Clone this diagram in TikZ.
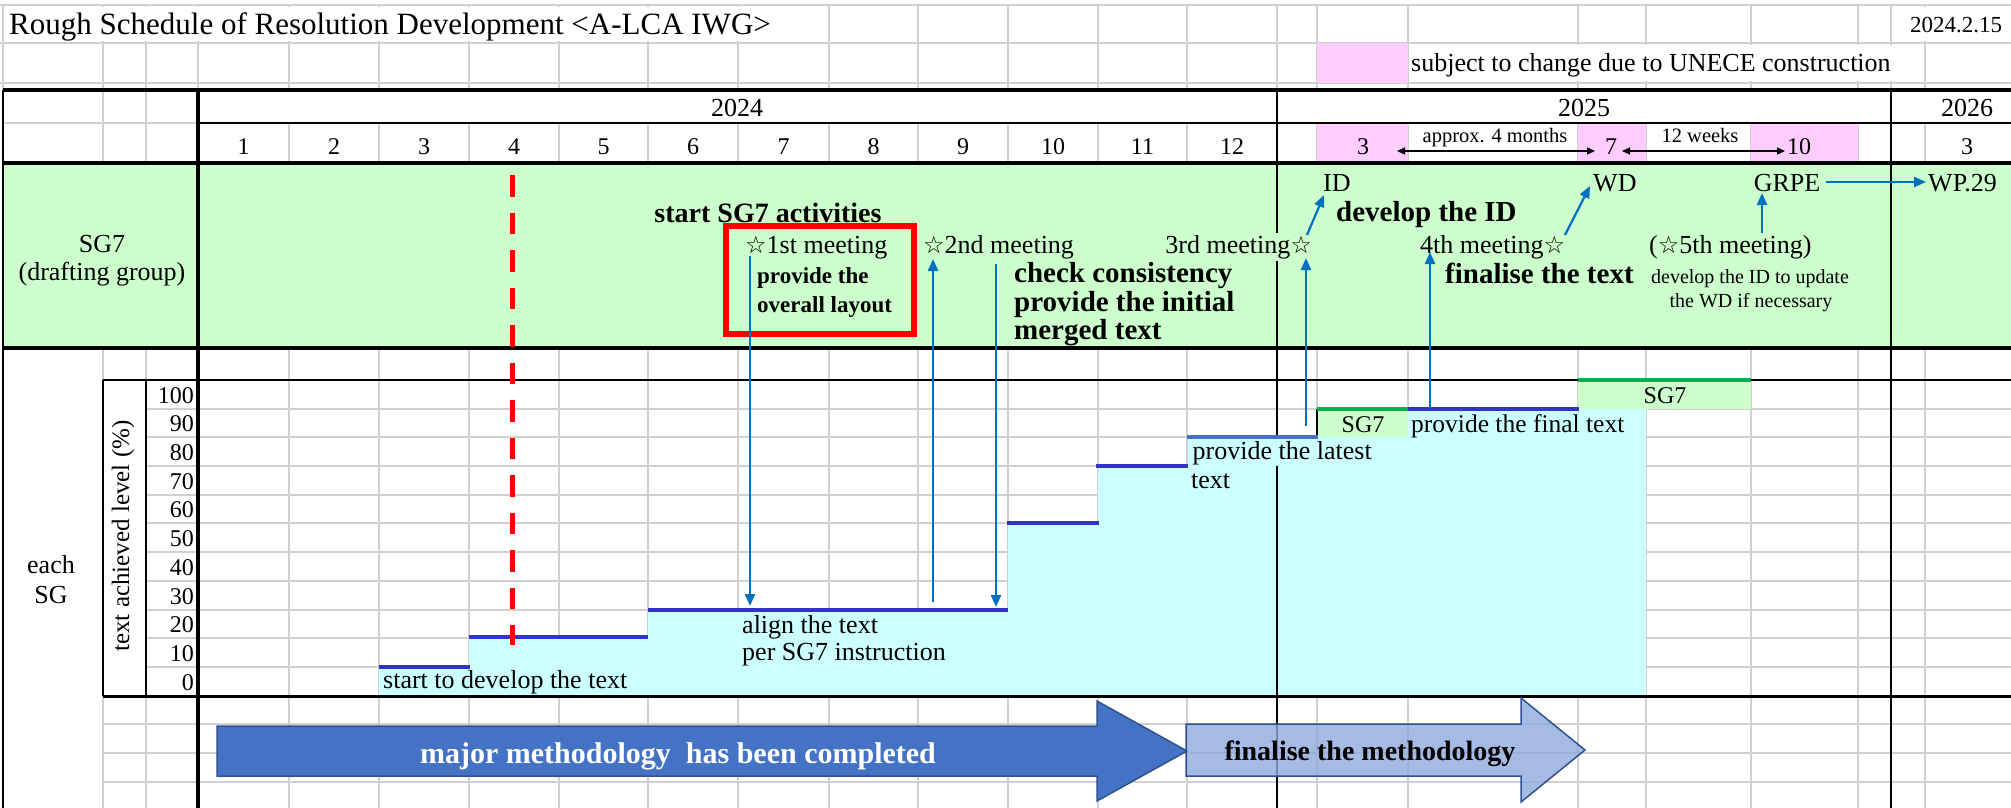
\documentclass[tikz,border=0pt]{standalone}
\usepackage{fontspec}
\setmainfont{Liberation Serif}
\newfontfamily\starfont{DejaVu Sans}
\usetikzlibrary{arrows.meta}
\definecolor{gridgray}{HTML}{D0D0D0}
\definecolor{bandgreen}{HTML}{CCFFCC}
\definecolor{cyanfill}{HTML}{CCFFFF}
\definecolor{pinkfill}{HTML}{FFCCFF}
\definecolor{levelblue}{HTML}{3333CC}
\definecolor{latestblue}{HTML}{4472C4}
\definecolor{sggreen}{HTML}{00B050}
\definecolor{arrowblue}{HTML}{0070C0}
\definecolor{darkarrow}{HTML}{4472C4}
\definecolor{darkedge}{HTML}{2F528F}
\definecolor{lightarrow}{HTML}{8FAADC}
\newcommand\fsz[1]{\fontsize{#1}{#1}\selectfont}
\newcommand\wstar{{\starfont\fontsize{24}{24}\selectfont ☆}}
\def\Vcols{103,146,289,379,469,559,648,738,829,918,1008,1098,1187,1317,1408,1578,1646,1751,1858,1925}
\begin{document}
\begin{tikzpicture}[x=1pt,y=-1pt,
  gline/.style={draw=gridgray,line width=1.6pt},
  bline/.style={draw=black,line width=2.2pt},
  tline/.style={draw=black,line width=4pt},
  lvl/.style={draw=levelblue,line width=4pt},
  sgline/.style={draw=sggreen,line width=4pt},
  conn/.style={draw=arrowblue,line width=2.2pt,-{Triangle[width=10pt,length=12pt]}},
  spanarrow/.style={draw=black,line width=1.2pt,{Triangle[width=7pt,length=8pt]}-{Triangle[width=7pt,length=8pt]}},
  lbl/.style={inner sep=0pt,font=\fsz{26}},
  blbl/.style={inner sep=0pt,font=\fsz{29}\bfseries},
  ax/.style={inner sep=0pt,anchor=base east,font=\fsz{24}},
  mon/.style={inner sep=0pt,anchor=base,font=\fsz{24}}]
\useasboundingbox (0,0) rectangle (2011,808);
\fill[white] (0,0) rectangle (2011,808);

% ---------- gray grid ----------
\draw[gline] (0,5) -- (2011,5);
\draw[gline] (0,43) -- (2011,43);
\draw[gline] (0,83) -- (2011,83);
\draw[gline] (3,123) -- (198,123);
\foreach \x in \Vcols {\draw[gline] (\x,5) -- (\x,90);}
\foreach \x in {198,1277,1891} {\draw[gline] (\x,5) -- (\x,90);}
\draw[gline] (3,5) -- (3,90);
\foreach \x in {103,146} {\draw[gline] (\x,90) -- (\x,123);}
\foreach \x in \Vcols {\draw[gline] (\x,123) -- (\x,163);}
\foreach \x in \Vcols {\draw[gline] (\x,348) -- (\x,808);}
\foreach \y in {409,437,466,495,523,552,581,610,638,667} {\draw[gline] (146,\y) -- (2011,\y);}
\foreach \y in {724,753,782} {\draw[gline] (103,\y) -- (2011,\y);}

% ---------- fills ----------
\fill[bandgreen] (3,163) rectangle (2011,348);
\fill[pinkfill] (1317,43) rectangle (1408,83);
\fill[pinkfill] (1317,123) rectangle (1408,163);
\fill[pinkfill] (1578,123) rectangle (1646,163);
\fill[pinkfill] (1751,123) rectangle (1858,163);
\fill[white] (6,7) rectangle (796,41);
\fill[white] (1903,7) rectangle (2009,41);
\fill[white] (1409,45) rectangle (1896,81);
\fill[cyanfill] (379,667) rectangle (469,696);
\fill[cyanfill] (469,637) rectangle (648,696);
\fill[cyanfill] (648,610) rectangle (1008,696);
\fill[cyanfill] (1008,523) rectangle (1098,696);
\fill[cyanfill] (1098,466) rectangle (1188,696);
\fill[cyanfill] (1188,437) rectangle (1408,696);
\fill[cyanfill] (1408,409) rectangle (1646,696);
\fill[bandgreen] (1317,409) rectangle (1408,437);
\fill[bandgreen] (1578,380) rectangle (1751,409);

% ---------- black lines ----------
\draw[tline] (3,90) -- (2011,90);
\draw[draw=black,line width=2.5pt] (198,123) -- (2011,123);
\draw[tline] (3,163) -- (2011,163);
\draw[tline] (3,348) -- (2011,348);
\draw[draw=black,line width=2.5pt] (103,380) -- (2011,380);
\draw[draw=black,line width=3pt] (103,696) -- (2011,696);
\draw[tline] (198,90) -- (198,808);
\draw[bline] (1277,90) -- (1277,808);
\draw[bline] (1891,90) -- (1891,808);
\draw[draw=black,line width=2.5pt] (103,380) -- (103,696);
\draw[draw=black,line width=2.5pt] (146,380) -- (146,696);
\draw[draw=black,line width=1.5pt] (3,90) -- (3,808);
\draw[draw=black,line width=2pt] (1317,409) -- (1317,437);

% ---------- level lines ----------
\draw[lvl] (379,667) -- (470,667);
\draw[lvl] (469,637) -- (648,637);
\draw[lvl] (648,610) -- (1008,610);
\draw[lvl] (1007,523) -- (1099,523);
\draw[lvl] (1096,466) -- (1188,466);
\draw[draw=latestblue,line width=4pt] (1187,437) -- (1318,437);
\draw[lvl] (1408,409) -- (1579,409);
\draw[sgline] (1317,409) -- (1408,409);
\draw[sgline] (1578,380) -- (1751,380);

% ---------- red marks ----------
\draw[draw=red,line width=5pt,dash pattern=on 21.5pt off 16pt] (512,175) -- (512,645);
\draw[draw=red,line width=6pt] (726,226) rectangle (914,334);

% ---------- big arrows ----------
\draw[fill=darkarrow,draw=darkedge,line width=1.5pt]
  (217,726) -- (1097,726) -- (1097,701) -- (1187,751) -- (1097,801) -- (1097,776) -- (217,776) -- cycle;
\draw[fill=lightarrow,fill opacity=0.8,draw=darkedge,line width=1.5pt]
  (1186,724) -- (1521,724) -- (1521,698) -- (1585,750) -- (1521,802) -- (1521,776) -- (1186,776) -- cycle;
\node[inner sep=0pt,anchor=base,text=white,font=\fsz{30}\bfseries] (major) at (678,763) {major methodology\ \ has been completed};
\node[inner sep=0pt,anchor=base,font=\fsz{28}\bfseries] (finmeth) at (1370,760) {finalise the methodology};

% ---------- header texts ----------
\node[lbl,anchor=base west,font=\fsz{31}] (title) at (9,35) {Rough Schedule of Resolution Development <A-LCA IWG>};
\node[lbl,anchor=base,font=\fsz{23}] (date) at (1956,33) {2024.2.15};
\node[lbl,anchor=base west] (subject) at (1411,72) {subject to change due to UNECE construction};
\node[lbl,anchor=base] (y2024) at (737,117) {2024};
\node[lbl,anchor=base] (y2025) at (1584,117) {2025};
\node[lbl,anchor=base] (y2026) at (1967,117) {2026};
\foreach \m/\x in {1/243.5,2/334,3/424,4/514,5/603.5,6/693,7/783.5,8/873.5,9/963,10/1053,11/1142.5,12/1232}
  {\node[mon] (m\m) at (\x,154) {\m};}
\node[mon] (n3) at (1363,154) {3};
\node[mon] (n7) at (1611,154) {7};
\node[mon] (n10) at (1799,154) {10};
\node[mon] (p3) at (1967,154) {3};
\node[inner sep=0pt,anchor=base,font=\fsz{20.5}] (approx) at (1495,142) {approx. 4 months};
\node[inner sep=0pt,anchor=base,font=\fsz{20.5}] (weeks) at (1700,142) {12 weeks};
\coordinate (s1a) at (1397,151); \coordinate (s1b) at (1595,151);
\coordinate (s2a) at (1622,151); \coordinate (s2b) at (1785,151);
\draw[spanarrow] (s1a) -- (s1b);
\draw[spanarrow] (s2a) -- (s2b);

% ---------- SG7 band ----------
\node[lbl,anchor=base] (sg7) at (102,252) {SG7};
\node[lbl,anchor=base] (drafting) at (102,280) {(drafting group)};
\node[blbl,anchor=base,font=\fsz{28}\bfseries] (startsg) at (768,222) {start SG7 activities};
\node[lbl,anchor=base west] (meet1) at (745,253) {\wstar1st meeting};
\node[inner sep=0pt,anchor=base west,font=\fsz{23}\bfseries] (prov1) at (757,283) {provide the};
\node[inner sep=0pt,anchor=base west,font=\fsz{23}\bfseries] (prov2) at (757,312) {overall layout};
\node[lbl,anchor=base west] (meet2) at (923,253) {\wstar2nd meeting};
\node[blbl,anchor=base west] (check) at (1014,282) {check consistency};
\node[blbl,anchor=base west] (initial) at (1014,311) {provide the initial};
\node[blbl,anchor=base west] (merged) at (1014,339) {merged text};
\node[lbl,anchor=base east,fill=bandgreen,inner sep=2pt] (meet3) at (1314,253) {3rd meeting\wstar};
\node[lbl,anchor=base west] (ID) at (1323,191) {ID};
\node[blbl,anchor=base west] (devID) at (1336,221) {develop the ID};
\node[lbl,anchor=base west] (WD) at (1593,191) {WD};
\node[lbl,anchor=base] (GRPE) at (1787,191) {GRPE};
\node[lbl,anchor=base west] (WP) at (1928,191) {WP.29};
\node[lbl,anchor=base west] (meet4) at (1420,253) {4th meeting\wstar};
\node[blbl,anchor=base west] (final) at (1445,283) {finalise the text};
\node[lbl,anchor=base west] (meet5) at (1649,253) {(\wstar5th meeting)};
\node[inner sep=0pt,anchor=base,font=\fsz{20}] (upd1) at (1750,283) {develop the ID to update};
\node[inner sep=0pt,anchor=base,font=\fsz{20}] (upd2) at (1751,307) {the WD if necessary};

% ---------- chart texts ----------
\foreach \v/\y in {100/403,90/431,80/460,70/489,60/517,50/546,40/575,30/604,20/632,10/661,0/690}
  {\node[ax] (lab\v) at (194,\y) {\v};}
\node[inner sep=0pt,rotate=90,font=\fsz{25}] (axis) at (123,536) {text achieved level (\%)};
\node[lbl,anchor=base] (each) at (51,573) {each};
\node[lbl,anchor=base] (eachsg) at (51,603) {SG};
\node[lbl,anchor=base west] (startdev) at (383,688) {start to develop the text};
\node[lbl,anchor=base west] (align1) at (742,633) {align the text};
\node[lbl,anchor=base west] (align2) at (742,660) {per SG7 instruction};
\node[lbl,anchor=base west,fill=cyanfill,inner sep=1.5pt] (latest1) at (1191,459) {provide the latest};
\node[lbl,anchor=base west] (latest2) at (1191,488) {text};
\node[lbl,anchor=base,font=\fsz{24}] (sgbox1) at (1363,432) {SG7};
\node[lbl,anchor=base west,font=\fsz{25.5}] (finaltext) at (1411,432) {provide the final text};
\node[lbl,anchor=base,font=\fsz{24}] (sgbox2) at (1665,403) {SG7};

% ---------- blue connectors ----------
\coordinate (a1s) at (750,256); \coordinate (a1e) at (750,606);
\coordinate (a2s) at (933,602); \coordinate (a2e) at (933,259);
\coordinate (a3s) at (996,264); \coordinate (a3e) at (996,607);
\coordinate (a4s) at (1306,426); \coordinate (a4e) at (1306,258);
\coordinate (a5s) at (1307,235); \coordinate (a5e) at (1324,195);
\coordinate (a6s) at (1430,408); \coordinate (a6e) at (1430,252);
\coordinate (a7s) at (1565,235); \coordinate (a7e) at (1590,186);
\coordinate (a8s) at (1762,233); \coordinate (a8e) at (1762,193);
\coordinate (a9s) at (1826,182); \coordinate (a9e) at (1926,182);
\draw[conn] (a1s) -- (a1e);
\draw[conn] (a2s) -- (a2e);
\draw[conn] (a3s) -- (a3e);
\draw[conn] (a4s) -- (a4e);
\draw[conn] (a5s) -- (a5e);
\draw[conn] (a6s) -- (a6e);
\draw[conn] (a7s) -- (a7e);
\draw[conn] (a8s) -- (a8e);
\draw[conn] (a9s) -- (a9e);
\end{tikzpicture}
\end{document}
